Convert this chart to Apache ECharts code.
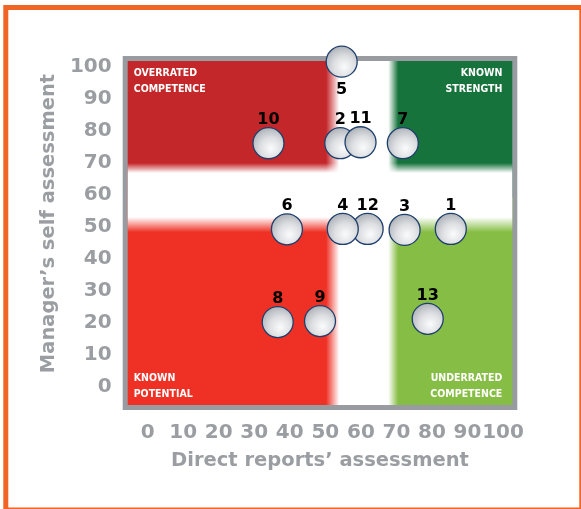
<!DOCTYPE html>
<html>
<head>
<meta charset="utf-8">
<script src="https://cdn.jsdelivr.net/npm/echarts@6/dist/echarts.min.js"></script>
<style>
  html, body { margin: 0; padding: 0; background: #ffffff; }
  #chart { width: 581px; height: 509px; }
</style>
</head>
<body>
<div id="chart"></div>
<script>
// Manager self assessment vs. direct reports' assessment, one bubble per manager
const managerIds   = ['1', '2', '3', '5', '6', '7', '8', '9', '10', '11', '12', '4', '13'];
const directScores = [85.3, 54.2, 72.3, 54.6, 39.2, 71.8, 36.6, 48.5, 34.0, 59.9, 61.9, 54.9, 78.8];
const selfScores   = [49.3, 76.1, 49.0, 101.6, 49.2, 76.1, 20.2, 20.5, 76.1, 76.4, 49.3, 49.3, 21.2];
// managers whose number sits under the bubble instead of above it
const labelsBelow  = ['5'];

// Tick labels on both axes
const tickValues = [0, 10, 20, 30, 40, 50, 60, 70, 80, 90, 100];

// Quadrant split lines (edges of the white cross)
const xSplitLow = 50.2, xSplitLowSolid = 53.9;
const xSplitHigh = 70.5, xSplitHighSolid = 67.7;
const ySplitLow = 48.3, ySplitLowSolid = 53.0;
const ySplitHigh = 69.9, ySplitHighSolid = 66.8;

// Axis extents (the frame reaches a little past 0 and 100)
const xMin = -5.6, xMax = 102.6;
const yMin = -5.72, yMax = 101.8;

const quadrantNames = {
  tl: 'OVERRATED\nCOMPETENCE',
  tr: 'KNOWN\nSTRENGTH',
  bl: 'KNOWN\nPOTENTIAL',
  br: 'UNDERRATED\nCOMPETENCE'
};

const GRAY = '#9a9ea2';
const cornerLabel = {
  show: true,
  color: '#ffffff',
  fontFamily: '"DejaVu Sans Condensed", "DejaVu Sans", sans-serif',
  fontWeight: 'bold',
  fontSize: 10.5,
  lineHeight: 15.5
};

function fade(x2, y2, a, b) {
  // white band that fades out toward both of its edges
  return {
    type: 'linear', x: 0, y: 0, x2: x2, y2: y2,
    colorStops: [
      { offset: 0, color: 'rgba(255,255,255,0)' },
      { offset: a, color: 'rgba(255,255,255,1)' },
      { offset: b, color: 'rgba(255,255,255,1)' },
      { offset: 1, color: 'rgba(255,255,255,0)' }
    ]
  };
}

const xMid = (xSplitLow + xSplitHigh) / 2;
const yMid = (ySplitLow + ySplitHigh) / 2;

const areas = [
  [{ xAxis: xMin, yAxis: yMid, itemStyle: { color: '#c4272a' },
     label: Object.assign({}, cornerLabel, { position: 'insideTopLeft', distance: 5, offset: [1, 0], align: 'left' }),
     name: quadrantNames.tl },
   { xAxis: xMid, yAxis: yMax }],
  [{ xAxis: xMid, yAxis: yMid, itemStyle: { color: '#17733c' },
     label: Object.assign({}, cornerLabel, { position: 'insideTopRight', distance: 5, offset: [-5, 0], align: 'right' }),
     name: quadrantNames.tr },
   { xAxis: xMax, yAxis: yMax }],
  [{ xAxis: xMin, yAxis: yMin, itemStyle: { color: '#ee3124' },
     label: Object.assign({}, cornerLabel, { position: 'insideBottomLeft', distance: 5, offset: [1, 2], align: 'left' }),
     name: quadrantNames.bl },
   { xAxis: xMid, yAxis: yMid }],
  [{ xAxis: xMid, yAxis: yMin, itemStyle: { color: '#86bd45' },
     label: Object.assign({}, cornerLabel, { position: 'insideBottomRight', distance: 5, offset: [-5, 2], align: 'right' }),
     name: quadrantNames.br },
   { xAxis: xMax, yAxis: yMid }],
  // vertical white band
  [{ xAxis: xSplitLow, yAxis: yMin, label: { show: false },
     itemStyle: { color: fade(1, 0,
       (xSplitLowSolid - xSplitLow) / (xSplitHigh - xSplitLow),
       (xSplitHighSolid - xSplitLow) / (xSplitHigh - xSplitLow)) } },
   { xAxis: xSplitHigh, yAxis: yMax }],
  // horizontal white band
  [{ xAxis: xMin, yAxis: ySplitHigh, label: { show: false },
     itemStyle: { color: fade(0, 1,
       (ySplitHigh - ySplitHighSolid) / (ySplitHigh - ySplitLow),
       (ySplitHigh - ySplitLowSolid) / (ySplitHigh - ySplitLow)) } },
   { xAxis: xMax, yAxis: ySplitLow }]
];

const points = managerIds.map((id, i) => {
  const p = { name: id, value: [directScores[i], selfScores[i]] };
  if (labelsBelow.indexOf(id) >= 0) p.label = { position: 'bottom', distance: 4 };
  return p;
});

const chart = echarts.init(document.getElementById('chart'), null, { renderer: 'canvas' });

chart.setOption({
  animation: false,
  backgroundColor: '#ffffff',
  graphic: [{
    type: 'rect',
    shape: { x: 5.8, y: 7.5, width: 576, height: 502.5 },
    style: { fill: 'none', stroke: '#f06523', lineWidth: 5 },
    silent: true,
    z: 100
  }],
  grid: {
    left: 127.7, right: 68.7, top: 61, bottom: 104,
    show: true, backgroundColor: '#ffffff',
    borderColor: '#989ca1', borderWidth: 10,
    containLabel: false, outerBoundsMode: 'none'
  },
  xAxis: {
    type: 'value', min: xMin, max: xMax,
    axisLine: { show: false }, axisTick: { show: false }, splitLine: { show: false },
    axisLabel: {
      customValues: tickValues, hideOverlap: false, margin: 18,
      color: GRAY, fontFamily: '"DejaVu Sans", Verdana, sans-serif', fontWeight: 'bold', fontSize: 20
    },
    name: 'Direct reports’ assessment',
    nameLocation: 'middle', nameGap: 46,
    nameTextStyle: { color: GRAY, fontFamily: '"DejaVu Sans", Verdana, sans-serif', fontWeight: 'bold', fontSize: 19.5 }
  },
  yAxis: {
    type: 'value', min: yMin, max: yMax,
    axisLine: { show: false }, axisTick: { show: false }, splitLine: { show: false },
    axisLabel: {
      customValues: tickValues, hideOverlap: false, margin: 16,
      color: GRAY, fontFamily: '"DejaVu Sans", Verdana, sans-serif', fontWeight: 'bold', fontSize: 20
    },
    name: 'Manager’s self assessment',
    nameLocation: 'middle', nameGap: 58, nameRotate: 90,
    nameTextStyle: { color: GRAY, fontFamily: '"DejaVu Sans", Verdana, sans-serif', fontWeight: 'bold', fontSize: 19.5,
                     padding: [0, 0, 0, 19] }
  },
  series: [{
    type: 'scatter',
    clip: false,
    symbol: 'circle',
    symbolSize: 31,
    data: points,
    itemStyle: {
      color: {
        type: 'radial', x: 0.58, y: 0.66, r: 0.62,
        colorStops: [
          { offset: 0, color: '#fbfbfc' },
          { offset: 0.55, color: '#dcdee1' },
          { offset: 1, color: '#b3b7bc' }
        ]
      },
      borderColor: '#1e3f6d',
      borderWidth: 1.3,
      opacity: 1
    },
    label: {
      show: true, position: 'top', distance: -1,
      formatter: '{b}',
      color: '#000000', fontFamily: '"DejaVu Sans", Verdana, sans-serif', fontWeight: 'bold', fontSize: 16
    },
    emphasis: { disabled: true },
    markArea: {
      silent: true,
      label: { show: true, formatter: '{b}' },
      itemStyle: { borderWidth: 0 },
      emphasis: { disabled: true },
      data: areas
    }
  }]
});
</script>
</body>
</html>
